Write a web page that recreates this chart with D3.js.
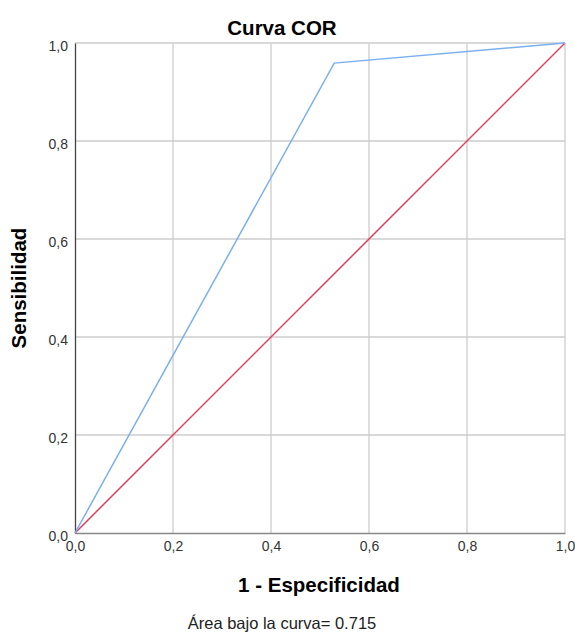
<!DOCTYPE html>
<meta charset="utf-8">
<script src="https://d3js.org/d3.v7.min.js"></script>
<style>
    body { margin: 0; background: #fff; }
    text { font-family: "Liberation Sans", Arial, sans-serif; }
</style>
<body>
</body>
<script>
    // ROC curve points (1 - specificity, sensitivity)
    var rocFpr = [0, 0.529, 1];
    var rocTpr = [0, 0.959, 1];
    // reference diagonal
    var refX = [0, 1];
    var refY = [0, 1];
    var tickValues = [0, 0.2, 0.4, 0.6, 0.8, 1];
    var areaLabel = "Área bajo la curva= 0.715";

    var margin = {top: 43, right: 10, bottom: 99, left: 75},
        width = 575 - margin.left - margin.right,
        height = 632 - margin.top - margin.bottom;

    var svg = d3.select("body")
        .append("svg")
            .attr("width", 575)
            .attr("height", 632);

    var g = svg.append("g")
        .attr("transform", "translate(" + margin.left + "," + margin.top + ")");

    var x = d3.scaleLinear().domain([0, 1]).range([0, width]);
    var y = d3.scaleLinear().domain([0, 1]).range([height, 0]);

    var fmt = function(d) { return d3.format(".1f")(d).replace(".", ","); };

    // grid
    g.append("g")
        .selectAll("line.gx")
        .data(tickValues.slice(1))
        .enter().append("line")
            .attr("x1", d => x(d)).attr("x2", d => x(d))
            .attr("y1", 0).attr("y2", height)
            .attr("stroke", "#cccccc").attr("stroke-width", 1.3);
    g.append("g")
        .selectAll("line.gy")
        .data(tickValues.slice(1))
        .enter().append("line")
            .attr("x1", 0).attr("x2", width)
            .attr("y1", d => y(d)).attr("y2", d => y(d))
            .attr("stroke", "#cccccc").attr("stroke-width", 1.3);

    // axes
    var xAxis = d3.axisBottom(x).tickValues(tickValues).tickFormat(fmt).tickSize(0).tickPadding(8);
    var yAxis = d3.axisLeft(y).tickValues(tickValues).tickFormat(fmt).tickSize(0).tickPadding(7);

    var gx = g.append("g").attr("transform", "translate(0," + height + ")").call(xAxis);
    gx.select(".domain").attr("stroke", "#888888").attr("stroke-width", 1.3);
    gx.selectAll("text").attr("font-size", 14).attr("fill", "#333");

    var gy = g.append("g").call(yAxis);
    gy.select(".domain").attr("stroke", "#444444").attr("stroke-width", 1.3);
    gy.selectAll("text").attr("font-size", 14).attr("fill", "#333").attr("dy", "0.55em");

    // lines
    var line = d3.line().x(d => x(d[0])).y(d => y(d[1]));

    g.append("path")
        .datum(refX.map((v, i) => [v, refY[i]]))
        .attr("d", line)
        .attr("fill", "none")
        .attr("stroke", "#e0405e")
        .attr("stroke-width", 1.5);

    g.append("path")
        .datum(rocFpr.map((v, i) => [v, rocTpr[i]]))
        .attr("d", line)
        .attr("fill", "none")
        .attr("stroke", "#7aaff0")
        .attr("stroke-width", 1.5);

    // titles
    svg.append("text")
        .attr("x", 282).attr("y", 35)
        .attr("text-anchor", "middle")
        .attr("font-size", 20.5).attr("font-weight", "bold")
        .text("Curva COR");

    svg.append("text")
        .attr("x", 319).attr("y", 592)
        .attr("text-anchor", "middle")
        .attr("font-size", 20.5).attr("font-weight", "bold")
        .text("1 - Especificidad");

    svg.append("text")
        .attr("transform", "translate(26," + 288 + ") rotate(-90)")
        .attr("text-anchor", "middle")
        .attr("font-size", 20.5).attr("font-weight", "bold")
        .text("Sensibilidad");

    svg.append("text")
        .attr("x", 282).attr("y", 629)
        .attr("text-anchor", "middle")
        .attr("font-size", 16.5).attr("fill", "#222")
        .text(areaLabel);
</script>
